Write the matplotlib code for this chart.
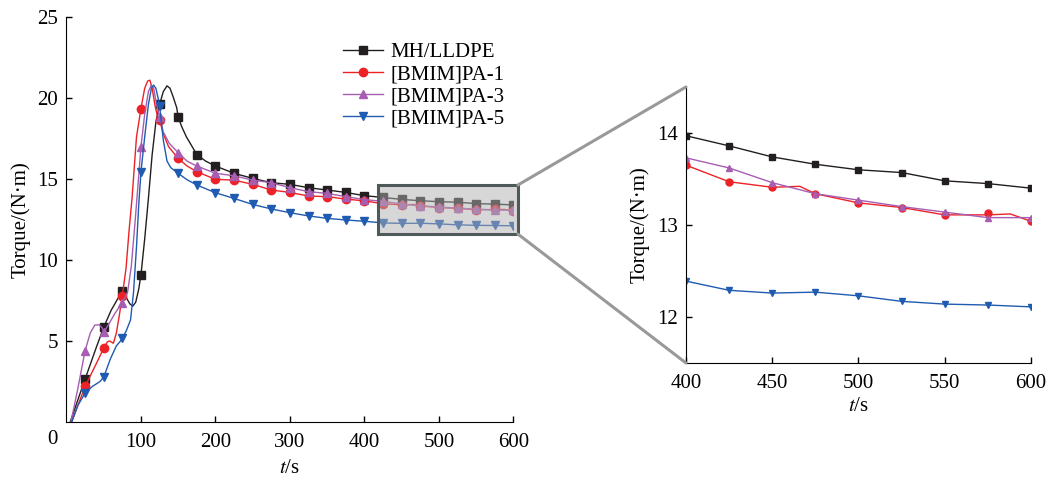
import matplotlib
matplotlib.use('Agg')
import matplotlib.pyplot as plt
from matplotlib.patches import Rectangle, ConnectionPatch

plt.rcParams['font.family'] = ['Liberation Serif', 'DejaVu Serif']
plt.rcParams['mathtext.fontset'] = 'stix'

# marker positions (every 25 s)
t_mk = [25, 50, 75, 100, 125, 150, 175, 200, 225, 250, 275, 300, 325, 350, 375,
        400, 425, 450, 475, 500, 525, 550, 575, 600]
mh_mk = [2.65, 5.85, 8.1, 9.08, 19.6, 18.8, 16.5, 15.8, 15.35, 15.04, 14.77, 14.67,
         14.46, 14.32, 14.17, 13.97, 13.86, 13.74, 13.66, 13.60, 13.57, 13.48, 13.45, 13.40]
pa1_mk = [2.2, 4.56, 7.8, 19.35, 18.63, 16.27, 15.45, 14.98, 14.93, 14.67, 14.32, 14.17,
          13.95, 13.91, 13.76, 13.65, 13.47, 13.41, 13.34, 13.24, 13.19, 13.11, 13.13, 13.04]
pa3_mk = [4.4, 5.53, 7.37, 17.0, 18.8, 16.62, 15.8, 15.35, 15.2, 14.93, 14.77, 14.46,
          14.22, 14.11, 13.91, 13.73, 13.62, 13.46, 13.34, 13.27, 13.20, 13.14, 13.08, 13.08]
pa5_mk = [1.79, 2.77, 5.18, 15.45, 19.5, 15.35, 14.63, 14.15, 13.8, 13.43, 13.15, 12.92,
          12.72, 12.57, 12.47, 12.39, 12.29, 12.26, 12.27, 12.23, 12.17, 12.14, 12.13, 12.11]

# curves (start-up region read more finely, then marker values)
mh_t = [5, 25, 40, 50, 60, 70, 75, 80, 85, 89, 93, 97, 100, 105, 110, 115, 120, 125, 130, 135,
        139, 143, 148, 150, 155, 161, 170, 175, 187] + t_mk[7:]
mh_y = [0, 2.65, 4.6, 5.85, 6.9, 7.7, 8.1, 7.7, 7.3, 7.15, 7.4, 8.2, 9.08, 11.3, 13.8, 16.5, 18.5,
        19.6, 20.4, 20.75, 20.6, 20.1, 19.4, 18.8, 18.2, 17.6, 16.9, 16.5, 16.1] + mh_mk[7:]

pa1_t = [7, 25, 40, 50, 55, 58, 63, 67, 71, 75, 80, 84, 88, 94, 100, 105, 109, 112, 115, 119, 122,
         125, 130, 137, 150, 162, 175, 200, 225, 250, 275, 300, 325, 350, 375, 400, 425, 450,
         466, 475, 500, 525, 550, 575, 588, 600]
pa1_y = [0, 2.2, 3.6, 4.56, 4.95, 5.0, 4.86, 5.5, 6.6, 7.8, 9.5, 11.8, 13.8, 17.6, 19.35, 20.6,
         21.05, 21.1, 20.6, 19.5, 18.9, 18.63, 17.8, 17.0, 16.27, 15.8, 15.45, 14.98, 14.93, 14.67,
         14.32, 14.17, 13.95, 13.91, 13.76, 13.65, 13.47, 13.41, 13.42, 13.34, 13.24, 13.19, 13.11,
         13.11, 13.12, 13.04]

pa3_t = [6, 15, 25, 32, 38, 44, 48, 50, 55, 65, 75, 82, 87, 92, 97, 100, 105, 110, 114, 117,
         121, 125, 130, 138, 150, 162] + t_mk[6:]
pa3_y = [0, 2.0, 4.4, 5.5, 5.98, 6.0, 5.8, 5.53, 5.9, 6.7, 7.37, 8.0, 9.6, 12.3, 15.2, 17.0,
         19.0, 20.4, 20.8, 20.6, 19.6, 18.8, 17.9, 17.2, 16.62, 16.1] + pa3_mk[6:]

pa5_t = [7, 15, 25, 35, 45, 50, 55, 59, 63, 67, 72, 75, 80, 86, 90, 94, 97, 100, 105, 110, 114,
         117, 120, 123, 125, 130, 135, 140, 150, 162] + t_mk[6:]
pa5_y = [0, 1.0, 1.79, 2.2, 2.5, 2.77, 3.4, 3.9, 4.3, 4.7, 4.97, 5.18, 5.6, 6.3, 8.0, 10.8, 13.4,
         15.45, 17.6, 19.6, 20.6, 20.8, 20.6, 20.0, 19.5, 17.4, 16.1, 15.7, 15.35, 14.95] + pa5_mk[6:]

labels = ['MH/LLDPE', '[BMIM]PA-1', '[BMIM]PA-3', '[BMIM]PA-5']
colors = ['#231f20', '#ec2227', '#a65db2', '#1f5bb0']
markers = ['s', 'o', '^', 'v']
curves = [(mh_t, mh_y, mh_mk), (pa1_t, pa1_y, pa1_mk), (pa3_t, pa3_y, pa3_mk), (pa5_t, pa5_y, pa5_mk)]

fig = plt.figure(figsize=(10.5, 4.79), dpi=100)
ax = fig.add_axes([0.0633, 0.119, 0.4257, 0.8455])
axi = fig.add_axes([0.6533, 0.2422, 0.3286, 0.5762])

for (tc, yc, ym), c, m, lab in zip(curves, colors, markers, labels):
    ax.plot(tc, yc, color=c, lw=1.0)
    ax.plot(t_mk, ym, ls='none', marker=m, color=c, ms=6)
    ax.plot([], [], color=c, lw=1.0, marker=m, ms=6, label=lab)
    ti = [t for t in tc if t >= 400]
    yi = [y for t, y in zip(tc, yc) if t >= 400]
    axi.plot(ti, yi, color=c, lw=1.0)
    axi.plot(t_mk[15:], ym[15:], ls='none', marker=m, color=c, ms=5)

for a in (ax, axi):
    a.spines['top'].set_visible(False)
    a.spines['right'].set_visible(False)
    a.tick_params(direction='in', length=4, width=1, labelsize=15)
    a.tick_params(axis='x', pad=8)
    a.tick_params(axis='y', pad=6)

ax.set_xlim(0, 600)
ax.set_ylim(0, 25)
ax.set_xticks([100, 200, 300, 400, 500, 600])
ax.set_yticks([5, 10, 15, 20, 25])
ax.text(-0.032, -0.044, '0', transform=ax.transAxes, ha='center', va='center', fontsize=15)
ax.set_xlabel('$t$/s', fontsize=15, labelpad=5)
ax.set_ylabel('Torque/(N·m)', fontsize=15, labelpad=5)
ax.legend(loc='upper left', bbox_to_anchor=(0.596, 0.962), frameon=False, fontsize=15,
          handlelength=1.9, handletextpad=0.35, labelspacing=0.12, borderpad=0)

axi.set_xlim(400, 600)
axi.set_ylim(11.5, 14.5)
axi.set_xticks([400, 450, 500, 550, 600])
axi.set_yticks([12, 13, 14])
axi.set_xlabel('$t$/s', fontsize=15, labelpad=3)
axi.set_ylabel('Torque/(N·m)', fontsize=15, labelpad=5)

# zoom box and connectors
bx0, bx1, by0, by1 = 418, 606, 11.6, 14.63
ax.add_patch(Rectangle((bx0, by0), bx1 - bx0, by1 - by0, facecolor='#b0b0b0', alpha=0.5,
                       edgecolor='none', clip_on=False, zorder=5))
ax.add_patch(Rectangle((bx0, by0), bx1 - bx0, by1 - by0, facecolor='none',
                       edgecolor='#4e5a5a', lw=2.2, clip_on=False, zorder=6))
for yb, ya in [(by1, 1), (by0, 0)]:
    cp = ConnectionPatch(xyA=(bx1, yb), coordsA=ax.transData, xyB=(0, ya), coordsB=axi.transAxes,
                         color='#999999', lw=2.2)
    fig.add_artist(cp)

fig.savefig('out.png', dpi=100)
